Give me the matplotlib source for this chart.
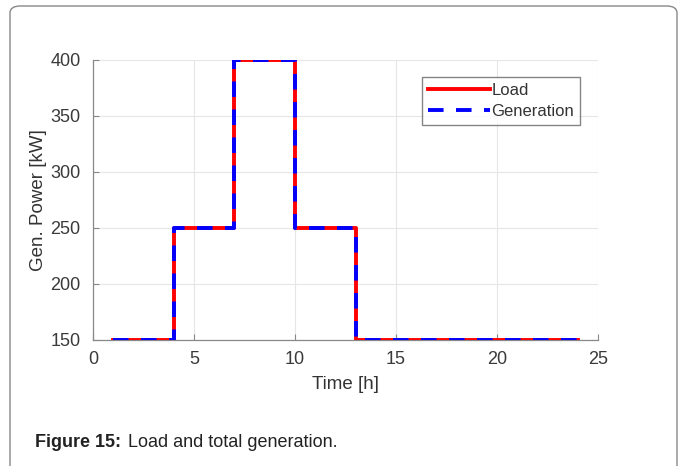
import matplotlib
matplotlib.use("Agg")
import matplotlib.pyplot as plt
from matplotlib.patches import FancyBboxPatch

plt.rcParams['font.family'] = ['Liberation Sans', 'DejaVu Sans']

# Data
time_h = [1, 4, 7, 10, 13, 24]
load_kw = [150, 250, 400, 250, 150, 150]
generation_kw = [150, 250, 400, 250, 150, 150]
x_ticks = [0, 5, 10, 15, 20, 25]
y_ticks = [150, 200, 250, 300, 350, 400]

W, H = 682, 466
fig = plt.figure(figsize=(W / 100, H / 100), dpi=100)

# Rounded frame
frame = FancyBboxPatch((10 / W, -20 / H), 667 / W, (H - 6 + 20) / H,
                       boxstyle="round,pad=0,rounding_size=0.015",
                       transform=fig.transFigure, facecolor='none',
                       edgecolor='#888888', linewidth=1.0, zorder=-1)
fig.patches.append(frame)

ax = fig.add_axes([93 / W, (H - 340) / H, (598 - 93) / W, (340 - 60) / H])
ax.set_facecolor('none')

ax.step(time_h, load_kw, where='post', color='#ff0000', lw=2.8,
        label='Load', zorder=3)
ax.step(time_h, generation_kw, where='post', color='#0000ff', lw=2.8,
        linestyle=(0, (4.0, 3.2)), label='Generation', zorder=4)

ax.set_xlim(0, 25)
ax.set_ylim(150, 400)
ax.set_xticks(x_ticks)
ax.set_yticks(y_ticks)
ax.grid(True, color='#e6e6e6', linewidth=0.8)
ax.set_axisbelow(True)
for s in ['top', 'right']:
    ax.spines[s].set_visible(False)
for s in ['left', 'bottom']:
    ax.spines[s].set_color('#888888')
    ax.spines[s].set_linewidth(0.9)
ax.tick_params(direction='in', length=4, colors='#888888',
               labelcolor='#3a3a3a', labelsize=13)
ax.tick_params(axis='y', pad=9)
ax.tick_params(axis='x', pad=8)

ax.set_xlabel('Time [h]', fontsize=13.5, color='#333333', labelpad=6)
ax.set_ylabel('Gen. Power [kW]', fontsize=13.5, color='#333333', labelpad=2)

leg = ax.legend(loc='upper right', bbox_to_anchor=(0.964, 0.939),
                fontsize=12, frameon=True, fancybox=False,
                handlelength=3.7, handletextpad=0.1, borderpad=0.35,
                labelspacing=0.35, borderaxespad=0)
leg.get_frame().set_edgecolor('#666666')
leg.get_frame().set_linewidth(1.0)
for t in leg.get_texts():
    t.set_color('#333333')

fig.text(35 / W, 1 - 447 / H, 'Figure 15:', fontsize=13, fontweight='bold',
         color='#222222', va='baseline')
fig.text(128 / W, 1 - 447 / H, 'Load and total generation.', fontsize=13,
         color='#222222', va='baseline')

fig.savefig('out.png', dpi=100)
